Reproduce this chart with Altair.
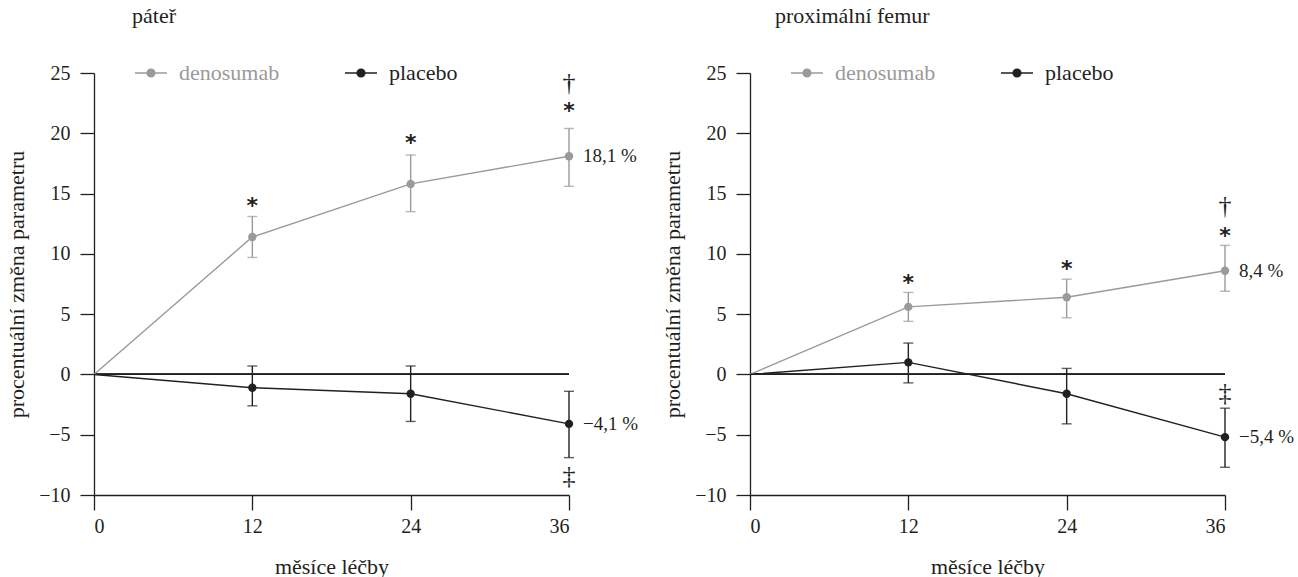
import altair as alt
import pandas as pd

FONT = "Liberation Serif"
GREY = "#9a9a9a"
BLACK = "#231f20"

months = [0, 12, 24, 36]
series_names = ["denosumab", "placebo"]

# páteř (spine)
spine_den = [0, 11.4, 15.8, 18.1]
spine_den_lo = [None, 9.7, 13.5, 15.6]
spine_den_hi = [None, 13.1, 18.2, 20.4]
spine_pla = [0, -1.1, -1.6, -4.1]
spine_pla_lo = [None, -2.6, -3.9, -6.9]
spine_pla_hi = [None, 0.7, 0.7, -1.4]
spine_star_x = [12, 24, 36]
spine_star_y = [14.4, 19.6, 22.3]
spine_dag_text = ["†", "‡"]
spine_dag_x = [36, 36]
spine_dag_y = [24.2, -8.4]
spine_end_text = ["18,1 %", "−4,1 %"]

# proximální femur
femur_den = [0, 5.6, 6.4, 8.6]
femur_den_lo = [None, 4.4, 4.7, 6.9]
femur_den_hi = [None, 6.8, 7.9, 10.7]
femur_pla = [0, 1.0, -1.6, -5.2]
femur_pla_lo = [None, -0.7, -4.1, -7.7]
femur_pla_hi = [None, 2.6, 0.5, -2.8]
femur_star_x = [12, 24, 36]
femur_star_y = [8.0, 9.2, 11.9]
femur_dag_text = ["†", "‡"]
femur_dag_x = [36, 36]
femur_dag_y = [14.0, -1.5]
femur_end_text = ["8,4 %", "−5,4 %"]

y_ticks = [-10, -5, 0, 5, 10, 15, 20, 25]
X_TITLE = "měsíce léčby"
Y_TITLE = "procentuální změna parametru"

LEGEND_SYMBOL = "M-1,0L1,0M0.24,0A0.24,0.24,0,1,1,-0.24,0A0.24,0.24,0,1,1,0.24,0Z"

AXIS_STYLE = dict(grid=False, domainColor=BLACK, domainWidth=1.3, tickColor=BLACK, tickWidth=1.3,
                  labelFont=FONT, labelFontSize=20, labelColor=BLACK,
                  titleFont=FONT, titleFontSize=22, titleColor=BLACK, titleFontWeight="normal")


def panel(title, title_dx, den, den_lo, den_hi, pla, pla_lo, pla_hi,
          star_x, star_y, dag_x, dag_y, dag_text, end_text):
    rows = []
    for name, vals in zip(series_names, [den, pla]):
        for m, v in zip(months, vals):
            rows.append({"month": m, "value": v, "series": name})
    lines_df = pd.DataFrame(rows)

    err_rows = []
    for name, vals, lo, hi in zip(series_names, [den, pla], [den_lo, pla_lo], [den_hi, pla_hi]):
        for m, v, l, h in zip(months, vals, lo, hi):
            if l is None:
                continue
            err_rows.append({"month": m, "value": v, "lo": l, "hi": h, "series": name})
    err_df = pd.DataFrame(err_rows)

    star_df = pd.DataFrame({"month": star_x, "value": star_y, "text": ["*"] * len(star_x)})
    dag_df = pd.DataFrame({"month": dag_x, "value": dag_y, "text": dag_text})
    end_df = pd.DataFrame({"month": [months[-1], months[-1]],
                           "value": [den[-1], pla[-1]], "text": end_text})

    xscale = alt.Scale(domain=[0, 36], nice=False, zero=False)
    yscale = alt.Scale(domain=[-10, 25], nice=False)
    xaxis = alt.Axis(values=months, title=X_TITLE, tickSize=15, labelPadding=6, titlePadding=20,
                     **AXIS_STYLE)
    yaxis = alt.Axis(values=y_ticks, title=Y_TITLE, tickSize=14, labelPadding=10, titlePadding=10,
                     **AXIS_STYLE)
    x = alt.X("month:Q", scale=xscale, axis=xaxis)
    y = alt.Y("value:Q", scale=yscale, axis=yaxis)

    zero = alt.Chart(lines_df).mark_rule(color=BLACK, strokeWidth=1.3).encode(
        x=alt.datum(0), x2=alt.datum(36), y=alt.datum(0))

    lines = alt.Chart(lines_df).mark_line(strokeWidth=1.4).encode(
        x=x, y=y,
        color=alt.Color("series:N",
                        scale=alt.Scale(domain=series_names, range=[GREY, BLACK]),
                        legend=alt.Legend(
                            title=None, orient="none", direction="horizontal",
                            legendX=40, legendY=-17,
                            symbolType=LEGEND_SYMBOL, symbolSize=1024,
                            symbolStrokeWidth=1.5,
                            symbolFillColor=alt.ExprRef("datum.value == 'denosumab' ? '" + GREY + "' : '" + BLACK + "'"),
                            labelColor=alt.ExprRef("datum.label == 'denosumab' ? '" + GREY + "' : '" + BLACK + "'"),
                            labelFont=FONT, labelFontSize=22, labelOffset=11,
                            columnPadding=62)),
        detail="series:N")

    layers = [zero, lines]
    for name, col in zip(series_names, [GREY, BLACK]):
        sub = err_df[err_df["series"] == name]
        layers.append(alt.Chart(sub).mark_errorbar(ticks=True, size=10, thickness=1.4, color=col).encode(
            x=alt.X("month:Q", scale=xscale, axis=xaxis),
            y=alt.Y("lo:Q", scale=yscale, axis=yaxis), y2="hi:Q"))
        layers.append(alt.Chart(sub).mark_circle(size=70, opacity=1, color=col).encode(
            x="month:Q", y="value:Q"))

    stars = alt.Chart(star_df).mark_text(font="DejaVu Sans", fontSize=22, fontWeight="bold", color=BLACK,
                                         baseline="middle", align="center", dy=5).encode(
        x="month:Q", y="value:Q", text="text:N")
    dags = alt.Chart(dag_df).mark_text(font=FONT, fontSize=26, color=BLACK,
                                       baseline="middle", align="center").encode(
        x="month:Q", y="value:Q", text="text:N")
    end = alt.Chart(end_df).mark_text(font=FONT, fontSize=19, color=BLACK, align="left",
                                      baseline="middle", dx=14).encode(
        x="month:Q", y="value:Q", text="text:N")
    layers += [stars, dags, end]

    return alt.layer(*layers).properties(
        width=475, height=422,
        title=alt.TitleParams(title, anchor="start", frame="group", dx=title_dx, offset=28,
                              font=FONT, fontSize=22, fontWeight="normal", color=BLACK))


left = panel("páteř", 38, spine_den, spine_den_lo, spine_den_hi, spine_pla, spine_pla_lo, spine_pla_hi,
             spine_star_x, spine_star_y, spine_dag_x, spine_dag_y, spine_dag_text, spine_end_text)
right = panel("proximální femur", 25, femur_den, femur_den_lo, femur_den_hi, femur_pla, femur_pla_lo,
              femur_pla_hi, femur_star_x, femur_star_y, femur_dag_x, femur_dag_y, femur_dag_text,
              femur_end_text)

chart = alt.hconcat(left, right, spacing=22).resolve_scale(color="independent").resolve_legend(
    color="independent"
).properties(
    padding={"left": 5, "top": 5, "right": 0, "bottom": 0}, background="white"
).configure(font=FONT).configure_view(stroke=None)

chart.save("out.html", embed_options={"renderer": "svg", "actions": False})
